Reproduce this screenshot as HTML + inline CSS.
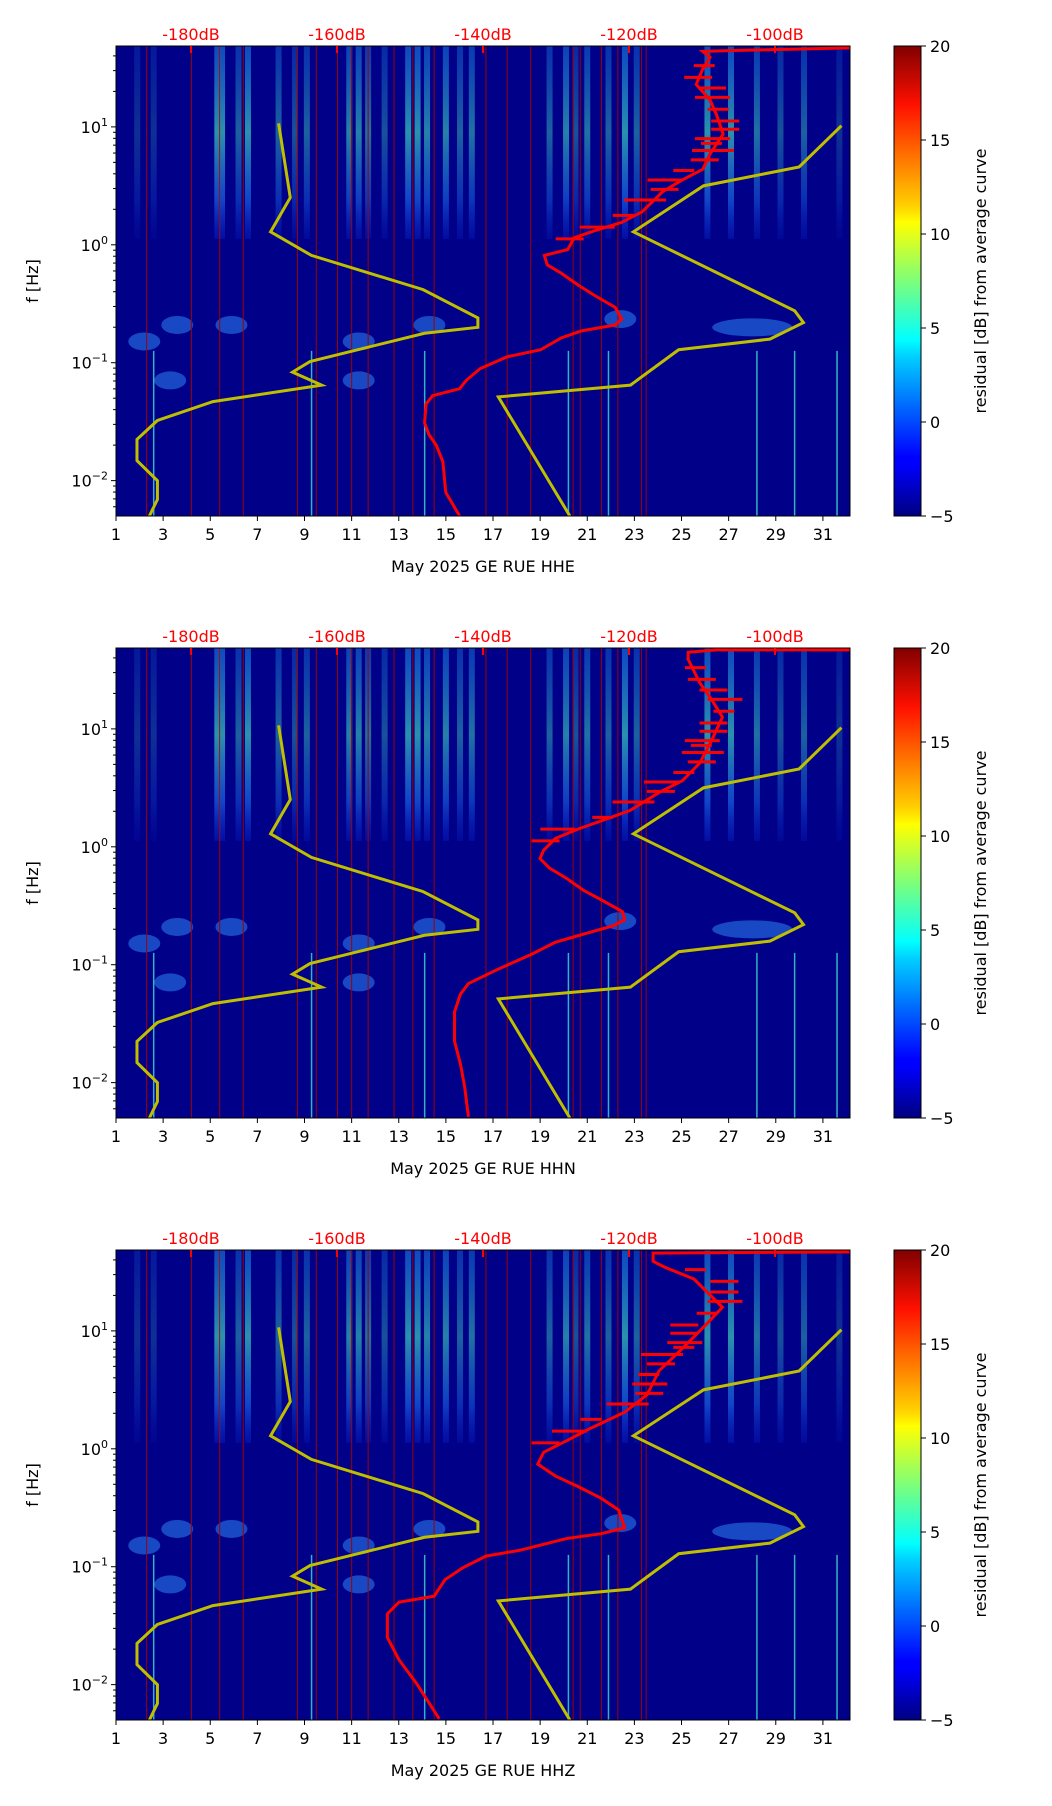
<!DOCTYPE html>
<html><head><meta charset="utf-8"><style>
body{margin:0;background:#fff}
svg{display:block;font-family:"DejaVu Sans","Liberation Sans",sans-serif}
</style></head><body>
<svg id="fig" width="1052" height="1806" viewBox="0 0 1052 1806" xmlns="http://www.w3.org/2000/svg">
<defs>
<linearGradient id="jet" x1="0" y1="1" x2="0" y2="0">
<stop offset="0" stop-color="#000080"/><stop offset="0.11" stop-color="#0000ff"/><stop offset="0.125" stop-color="#0000ff"/>
<stop offset="0.34" stop-color="#00d0ff"/><stop offset="0.375" stop-color="#00ffff"/><stop offset="0.5" stop-color="#7dff7a"/>
<stop offset="0.625" stop-color="#ffff00"/><stop offset="0.66" stop-color="#ffd000"/><stop offset="0.875" stop-color="#ff1000"/><stop offset="1" stop-color="#800000"/>
</linearGradient>
<linearGradient id="stripeGrad" x1="0" y1="0" x2="0" y2="1">
<stop offset="0" stop-color="#20a0ff" stop-opacity="0.6"/><stop offset="0.45" stop-color="#40e0c0" stop-opacity="0.85"/><stop offset="0.8" stop-color="#2080ff" stop-opacity="0.7"/><stop offset="1" stop-color="#1040ff" stop-opacity="0.3"/>
</linearGradient>
</defs>
</svg>
<script>
// ---- data ----
const xTickDays=[1,3,5,7,9,11,13,15,17,19,21,23,25,27,29,31];
const yTickExp=[-2,-1,0,1];
const dbTicks=[-180,-160,-140,-120,-100];
const cbTicks=[-5,0,5,10,15,20];
const channels=["HHE","HHN","HHZ"];
const nlnmLogF=[1.03,0.40,0.11,-0.09,-0.38,-0.62,-0.70,-0.75,-0.99,-1.08,-1.19,-1.33,-1.49,-1.65,-1.83,-2.0,-2.16,-2.30];
const nlnmDB=[-168.0,-166.4,-169.1,-163.5,-148.2,-140.7,-140.7,-148.0,-163.7,-166.1,-162.1,-177.0,-184.6,-187.4,-187.4,-184.6,-184.6,-185.7];
const nhnmLogF=[1.01,0.66,0.50,0.11,-0.56,-0.66,-0.80,-0.89,-1.19,-1.29,-2.30];
const nhnmDB=[-90.9,-96.7,-109.8,-119.4,-97.3,-96.1,-100.7,-113.2,-119.8,-137.9,-128.1];
const redLogF_E=[-2.30,-2.10,-1.84,-1.70,-1.61,-1.51,-1.35,-1.28,-1.22,-1.15,-1.05,-0.95,-0.89,-0.79,-0.73,-0.68,-0.63,-0.53,-0.43,-0.34,-0.24,-0.17,-0.09,-0.04,0.06,0.12,0.19,0.28,0.45,0.55,0.64,0.77,0.94,1.10,1.23,1.36,1.49,1.59,1.64,1.65,1.67];
const redDB_E=[-143.2,-145.1,-145.5,-146.4,-147.4,-148.0,-147.8,-146.9,-143.2,-142.3,-140.4,-136.7,-132.1,-129.3,-126.5,-121.9,-121.0,-121.9,-124.7,-127.0,-129.3,-131.2,-131.6,-128.4,-127.5,-124.7,-121.0,-118.2,-115.4,-112.7,-109.9,-108.9,-107.1,-108.0,-108.9,-110.8,-109.9,-108.9,-109.9,-104.3,-89.6];
const redLogF_N=[-2.29,-2.04,-1.84,-1.65,-1.40,-1.25,-1.16,-1.04,-0.91,-0.81,-0.74,-0.67,-0.62,-0.55,-0.45,-0.37,-0.27,-0.18,-0.10,-0.03,0.07,0.15,0.22,0.31,0.46,0.56,0.71,0.90,1.10,1.25,1.39,1.49,1.59,1.65,1.67,1.67];
const redDB_N=[-142.0,-142.5,-143.1,-143.9,-143.9,-143.1,-142.0,-138.0,-133.3,-130.1,-126.2,-122.2,-120.6,-120.9,-123.8,-126.2,-128.5,-130.9,-132.2,-131.7,-130.1,-127.0,-123.8,-119.8,-115.9,-112.7,-110.3,-108.7,-107.2,-108.7,-110.3,-111.1,-111.9,-111.9,-108.0,-89.7];
const redLogF_Z=[-2.29,-1.99,-1.79,-1.60,-1.40,-1.30,-1.25,-1.11,-1.01,-0.91,-0.86,-0.76,-0.72,-0.67,-0.52,-0.42,-0.32,-0.23,-0.13,-0.03,0.07,0.17,0.31,0.46,0.66,0.85,1.05,1.20,1.44,1.54,1.59,1.66,1.67];
const redDB_Z=[-146.0,-149.1,-151.5,-153.1,-153.1,-151.5,-146.7,-145.2,-142.8,-139.6,-134.9,-128.5,-123.8,-120.6,-121.4,-123.8,-127.0,-130.1,-132.5,-131.7,-128.5,-125.4,-120.6,-117.5,-115.9,-112.7,-109.5,-107.2,-111.1,-115.1,-116.7,-116.7,-89.7];
const spikeLogF=[0.05,0.15,0.25,0.38,0.47,0.55,0.63,0.72,0.80,0.86,0.90,0.98,1.05,1.15,1.25,1.33,1.42,1.52];
const spikeLen=[4,5,3,6,4,5,3,4,6,3,5,4,4,3,5,4,4,3];
const stripeDays=[1.9,2.6,5.3,5.5,6.2,6.6,7.9,8.6,9.1,10.9,11.3,11.7,12.4,13.4,13.8,14.2,15.0,15.6,16.1,19.4,20.1,20.5,21.0,21.9,22.6,23.1,26.1,27.1,28.2,29.2,30.2,31.7];
const stripeLevel=[0.3,0.3,0.9,0.9,0.6,0.9,0.6,0.5,0.6,0.8,0.8,0.7,0.5,0.9,0.9,0.8,0.8,0.6,0.7,0.6,0.8,0.5,0.7,0.6,0.9,0.6,0.9,0.9,0.7,0.5,0.6,0.3];
const blobDay=[2.2,3.6,5.9,11.3,11.3,14.3,3.3,28.0,22.4];
const blobLogF=[-0.82,-0.68,-0.68,-0.82,-1.15,-0.68,-1.15,-0.70,-0.63];
const gapDays=[2.3,4.2,5.4,6.4,8.7,9.5,10.4,11.0,11.7,12.8,13.6,14.5,16.7,17.6,18.6,20.4,20.7,21.6,22.3,23.3,23.5];
const spikeDays=[2.6,9.3,14.1,20.2,21.9,28.2,29.8,31.6];

// ---- layout ----
const NS="http://www.w3.org/2000/svg";
const svg=document.getElementById('fig');
const L=116,R=850,PH=470,tops=[46,648,1250];
const dayMin=1,dayMax=32.15,lfTop=1.686,lfBot=-2.3;
function X(d){return L+(d-dayMin)/(dayMax-dayMin)*(R-L);}
function Yf(t,lf){return t+(lfTop-lf)/(lfTop-lfBot)*PH;}
function DBX(db){return 191+(db+180)*7.3;}
function mk(tag,attrs,parent){const e=document.createElementNS(NS,tag);for(const k in attrs)e.setAttribute(k,attrs[k]);(parent||svg).appendChild(e);return e;}
function txt(s,attrs,parent){const e=mk('text',attrs,parent);e.textContent=s;return e;}

const reds=[[redLogF_E,redDB_E],[redLogF_N,redDB_N],[redLogF_Z,redDB_Z]];

tops.forEach((t,pi)=>{
  const g=mk('g',{});
  
  
  const cp=mk('clipPath',{id:'cp'+pi},g);
  mk('rect',{x:L,y:t,width:R-L,height:PH},cp);
  const plot=mk('g',{'clip-path':'url(#cp'+pi+')'},g);
  const bg=mk('rect',{x:L,y:t,width:R-L,height:PH,fill:'#000088'},plot);
  
  
  stripeDays.forEach((d,i)=>{
    const r=mk('rect',{x:X(d)-3,y:t,width:6,height:Yf(t,0.05)-t,fill:'url(#stripeGrad)',opacity:stripeLevel[i]*0.85},plot);
    
    
  });
  blobDay.forEach((d,i)=>{
    const b=mk('ellipse',{cx:X(d),cy:Yf(t,blobLogF[i]),rx:i==7?40:16,ry:9,fill:'#3090ff',opacity:0.5},plot);
    
    
  });
  spikeDays.forEach(d=>{
    const s=mk('line',{x1:X(d),x2:X(d),y1:Yf(t,-0.9),y2:t+PH,stroke:'#40e0d0','stroke-width':1.5,opacity:0.8},plot);
    
    
  });
  gapDays.forEach(d=>{
    const l=mk('line',{x1:X(d),x2:X(d),y1:t,y2:t+PH,stroke:'#a00000','stroke-width':1},plot);
    
    
  });
  [[nlnmLogF,nlnmDB,'nlnm-curve'],[nhnmLogF,nhnmDB,'nhnm-curve']].forEach(([lf,db,n])=>{
    const p=mk('polyline',{points:lf.map((v,i)=>DBX(db[i])+','+Yf(t,v)).join(' '),fill:'none',stroke:'#bfbf00','stroke-width':3},plot);
    
    
  });
  const [rl,rd]=reds[pi];
  const rp=mk('polyline',{points:rl.map((v,i)=>DBX(rd[i])+','+Yf(t,v)).join(' '),fill:'none',stroke:'#ff0000','stroke-width':3},plot);
  
  
  spikeLogF.forEach((lf,i)=>{
    let k=0;while(k<rl.length-1&&rl[k+1]<lf)k++;
    const db=rd[k];
    const sp=mk('line',{x1:DBX(db)-spikeLen[i]*3,x2:DBX(db)+spikeLen[i]*4,y1:Yf(t,lf),y2:Yf(t,lf),stroke:'#ff0000','stroke-width':3},plot);
    
    
  });
  mk('rect',{x:L,y:t,width:R-L,height:PH,fill:'none',stroke:'#000','stroke-width':1},g);
  xTickDays.forEach(d=>{
    mk('line',{x1:X(d),x2:X(d),y1:t+PH,y2:t+PH+5,stroke:'#000'},g);
    const tl=txt(String(d),{x:X(d),y:t+PH+24,'text-anchor':'middle','font-size':16},g);
    
    
  });
  const xl=txt('May 2025 GE RUE  '+channels[pi],{x:(L+R)/2,y:t+PH+56,'text-anchor':'middle','font-size':16},g);
  
  
  for(let e=-3;e<=1;e++)for(let m=1;m<10;m++){
    const lf=e+Math.log10(m);if(lf<lfBot||lf>lfTop)continue;
    mk('line',{x1:L,x2:L-(m==1?5:3),y1:Yf(t,lf),y2:Yf(t,lf),stroke:'#000'},g);
  }
  yTickExp.forEach(e=>{
    const yt=txt('',{x:L-8,y:Yf(t,e)+6,'text-anchor':'end','font-size':16},g);
    
    
    const a=mk('tspan',{},yt);a.textContent='10';
    const b=mk('tspan',{dy:-7,'font-size':11},yt);b.textContent=String(e).replace('-','\u2212');
  });
  const yl=txt('f [Hz]',{x:0,y:0,'text-anchor':'middle','font-size':16,transform:'translate(38,'+(t+PH/2)+') rotate(-90)'},g);
  
  
  dbTicks.forEach(db=>{
    mk('line',{x1:DBX(db),x2:DBX(db),y1:t,y2:t+7,stroke:'#ff0000','stroke-width':2},g);
    const dl=txt(db+'dB',{x:DBX(db),y:t-6,'text-anchor':'middle','font-size':16,fill:'#ff0000'},g);
    
    
  });
  const cb=mk('rect',{x:894,y:t,width:27,height:PH,fill:'url(#jet)',stroke:'#000','stroke-width':1},g);
  
  
  cbTicks.forEach(v=>{
    const y=t+PH-(v+5)/25*PH;
    mk('line',{x1:921,x2:926,y1:y,y2:y,stroke:'#000'},g);
    const c=txt(String(v).replace('-','\u2212'),{x:930,y:y+6,'font-size':16},g);
    
    
  });
  const cl=txt('residual [dB] from average curve',{x:0,y:0,'text-anchor':'middle','font-size':16,transform:'translate(986,'+(t+PH/2)+') rotate(-90)'},g);
  
  
});
</script>
</body></html>
